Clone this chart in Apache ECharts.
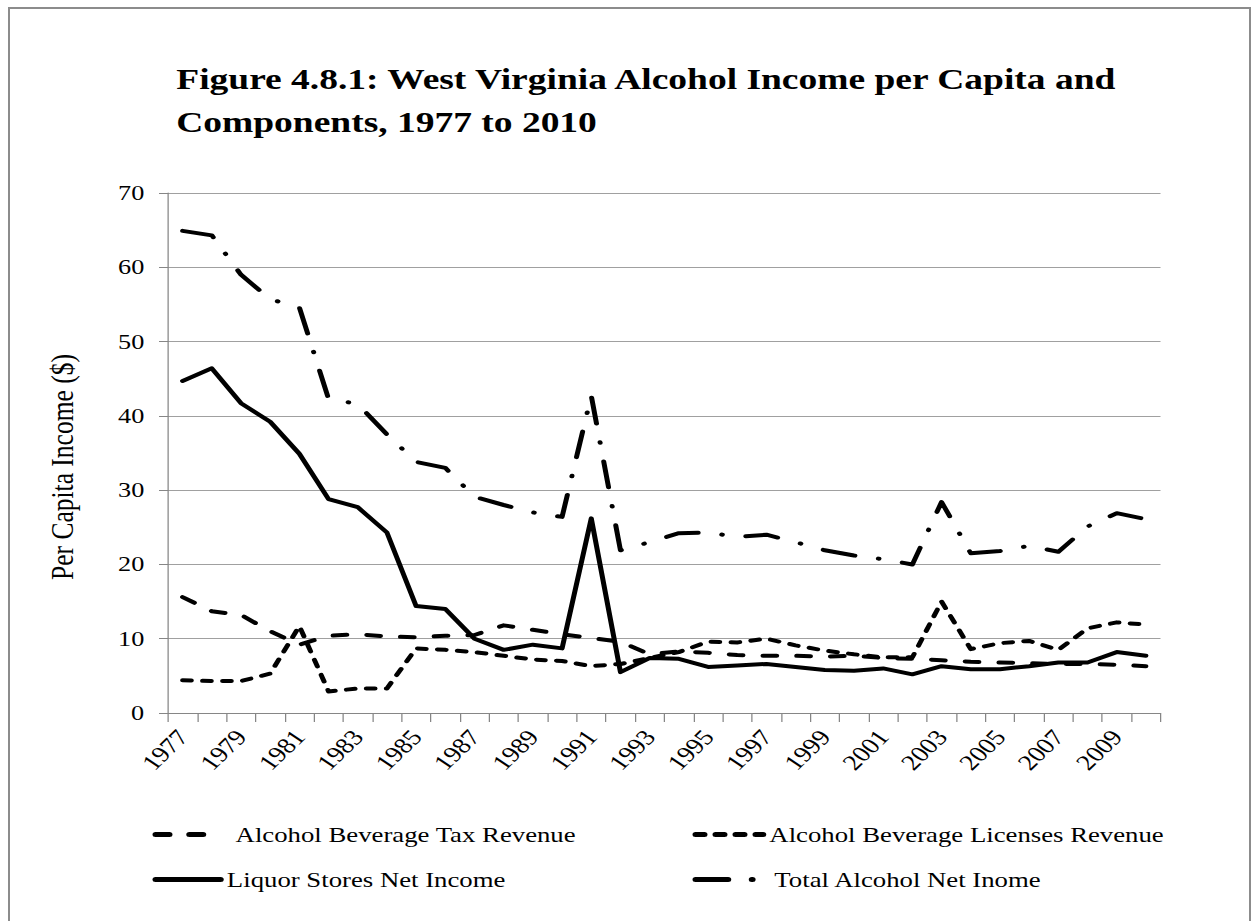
<!DOCTYPE html>
<html>
<head>
<meta charset="utf-8">
<title>West Virginia Alcohol Income per Capita</title>
<script src="https://cdn.jsdelivr.net/npm/echarts@6/dist/echarts.min.js"></script>
<style>
  html, body { margin: 0; padding: 0; background: #fff; overflow: hidden; }
  #frame { position: absolute; left: 8px; top: 7px; width: 1243px; height: 940px; border: 2px solid #8c8c8c; box-sizing: border-box; }
  /* the original picture is stretched sideways, so the chart is drawn narrower and scaled */
  #chart { position: absolute; left: 0; top: 0; width: 1002px; height: 921px; transform: scaleX(1.25); transform-origin: 0 0; }
</style>
</head>
<body>
<div id="frame"></div>
<div id="chart"></div>
<script>
const years = ['1977', '1978', '1979', '1980', '1981', '1982', '1983', '1984', '1985', '1986',
  '1987', '1988', '1989', '1990', '1991', '1992', '1993', '1994', '1995', '1996',
  '1997', '1998', '1999', '2000', '2001', '2002', '2003', '2004', '2005', '2006',
  '2007', '2008', '2009', '2010'];

const taxRevenue = [15.6, 13.7, 13.2, 11.0, 9.2, 10.4, 10.6, 10.3, 10.2, 10.4,
  10.5, 11.8, 11.2, 10.6, 10.1, 9.6, 7.9, 8.3, 8.1, 7.8,
  7.7, 7.7, 7.6, 7.7, 7.4, 7.3, 7.1, 6.9, 6.8, 6.7,
  6.6, 6.6, 6.5, 6.3];

const licensesRevenue = [4.4, 4.3, 4.3, 5.3, 11.7, 2.9, 3.3, 3.3, 8.7, 8.5,
  8.2, 7.7, 7.2, 7.0, 6.3, 6.6, 7.4, 8.2, 9.6, 9.5,
  10.0, 9.1, 8.4, 7.9, 7.5, 7.5, 15.0, 8.6, 9.4, 9.7,
  8.5, 11.4, 12.2, 11.9];

const liquorStores = [44.7, 46.4, 41.7, 39.2, 34.9, 28.8, 27.7, 24.3, 14.4, 14.0,
  10.0, 8.5, 9.2, 8.7, 26.2, 5.5, 7.4, 7.3, 6.2, 6.4,
  6.6, 6.2, 5.8, 5.7, 6.0, 5.2, 6.3, 5.9, 5.9, 6.3,
  6.8, 6.8, 8.2, 7.7];

const totalAlcohol = [64.9, 64.3, 59.0, 55.7, 54.6, 42.3, 41.6, 37.5, 33.8, 33.0,
  29.1, 28.0, 27.0, 26.4, 42.7, 21.9, 23.0, 24.2, 24.3, 23.7,
  24.0, 23.0, 21.9, 21.2, 20.7, 20.0, 28.4, 21.5, 21.8, 22.5,
  21.7, 25.1, 26.9, 26.1];

const names = ['Alcohol Beverage Tax Revenue', 'Alcohol Beverage Licenses Revenue',
  'Liquor Stores Net Income', 'Total Alcohol Net Inome'];

const serif = "'Times New Roman', 'Liberation Serif', serif";

function legendAt(name, left, top, itemWidth, gap) {
  return {
    data: [name],
    left: left,
    top: top,
    padding: 0,
    itemWidth: itemWidth,
    itemHeight: 14,
    selectedMode: false,
    itemStyle: { opacity: 0 },
    lineStyle: { width: 5, cap: 'round' },
    textStyle: { fontFamily: serif, fontSize: 21.4, color: '#000', padding: [0, 0, 0, gap] }
  };
}

function lineSeries(name, data, dash) {
  return {
    name: name,
    type: 'line',
    data: data,
    symbol: 'none',
    lineStyle: { color: '#000', width: 4, type: dash, cap: 'round', join: 'round' },
    itemStyle: { color: '#000' }
  };
}

const chart = echarts.init(document.getElementById('chart'), null, { renderer: 'svg' });
chart.setOption({
  animation: false,
  backgroundColor: 'transparent',
  title: {
    text: 'Figure 4.8.1: West Virginia Alcohol Income per Capita and\nComponents, 1977 to 2010',
    left: 136,
    top: 52,
    textStyle: { fontFamily: serif, fontSize: 30, fontWeight: 'bold', color: '#000', lineHeight: 43 }
  },
  legend: [
    legendAt(names[0], 122, 824, 42, 17),
    legendAt(names[1], 554, 824, 54, 0),
    legendAt(names[2], 122, 869, 52, 0),
    legendAt(names[3], 554, 869, 50, 8)
  ],
  grid: { left: 134.4, right: 73.6, top: 193, bottom: 208 },
  xAxis: {
    type: 'category',
    data: years,
    boundaryGap: true,
    axisLine: { lineStyle: { color: '#868686', width: 1 } },
    axisTick: { show: true, interval: 0, length: 9, lineStyle: { color: '#868686' } },
    axisLabel: { interval: 1, rotate: 50, margin: 20, fontFamily: serif, fontSize: 22, color: '#000' },
    splitLine: { show: false }
  },
  yAxis: {
    type: 'value',
    min: 0,
    max: 70,
    interval: 10,
    name: 'Per Capita Income ($)',
    nameLocation: 'middle',
    nameGap: 72,
    nameTextStyle: { fontFamily: serif, fontSize: 25.5, color: '#000', padding: [0, 28, 0, 0] },
    axisLine: { show: true, lineStyle: { color: '#868686', width: 1 } },
    axisTick: { show: true, length: 7.2, lineStyle: { color: '#868686' } },
    axisLabel: { margin: 19, fontFamily: serif, fontSize: 21, color: '#000' },
    splitLine: { show: true, lineStyle: { color: '#a0a0a0', width: 1 } }
  },
  series: [
    lineSeries(names[0], taxRevenue, [11, 16]),
    lineSeries(names[1], licensesRevenue, [7, 9]),
    lineSeries(names[2], liquorStores, 'solid'),
    lineSeries(names[3], totalAlcohol, [26, 19, 0.5, 19])
  ]
});
</script>
</body>
</html>
